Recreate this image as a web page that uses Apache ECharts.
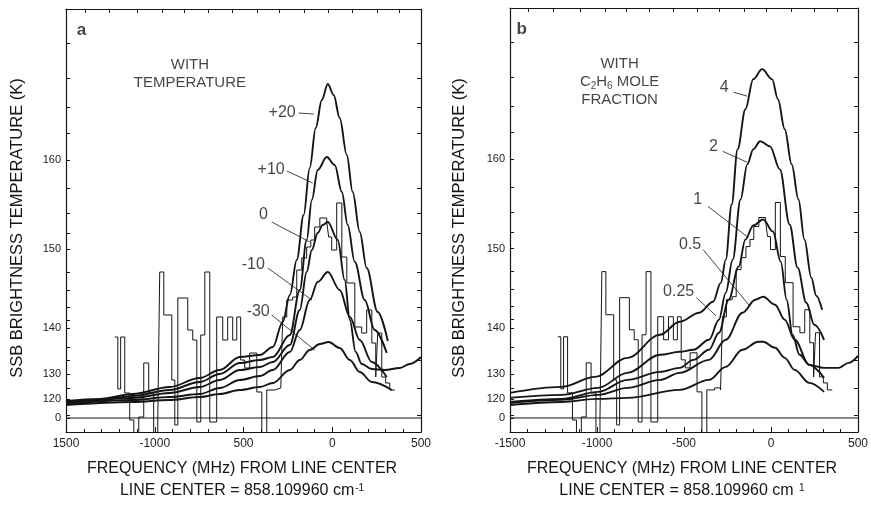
<!DOCTYPE html>
<html><head><meta charset="utf-8">
<script src="https://cdn.jsdelivr.net/npm/echarts@6/dist/echarts.min.js"></script>
<style>html,body{margin:0;padding:0;background:#fff}#c{width:871px;height:508px}</style>
</head><body><div id="c"></div>
<script>
// ---- axis ticks / labels (y values are in linear radiance units; labels are brightness temperature) ----
const xTickValues = [-1500, -1000, -500, 0, 500];
const xTickLabelsA = ['1500', '-1000', '500', '0', '500'];
const xTickLabelsB = ['-1500', '-1000', '-500', '0', '500'];
const topTicks = [-1394, -1254, -1096, -955, -831, -701, -561, -425, -296, -155, -25, 115, 251, 380];
const yTickValues = [0, 7.6, 17.6, 36, 67.6, 103.2];
const yTickLabels = ['0', '120', '130', '140', '150', '160'];
const yMinorTicks = [150, 136, 124.4, 114, 92, 82, 74, 58.4, 51.2, 44.4, 39.2, 28.4, 23.2, 12, 1.2];

// ---- panel a: model curves with temperature offsets ----
const tempNames = ['+20', '+10', '0', '-10', '-30'];
const tempP20 = [[-1500,6.8],[-1310,7.6],[-1124,9.6],[-916,12.4],[-747,16],[-634,19.2],[-521,24.4],[-408,25.2],[-335,28.4],[-279,38.4],[-239,49.2],[-200,63.2],[-161,81.2],[-127,100],[-93,116],[-59,127.2],[-25,133.6],[8,129.2],[42,120],[82,105.2],[115,90.4],[155,74.4],[194,60],[256,42.4],[313,30.8]];
const tempP10 = [[-1500,6.4],[-1310,7.2],[-1124,8.8],[-916,11.2],[-747,14.4],[-634,17.6],[-521,22],[-408,23.2],[-335,24.4],[-239,33.2],[-183,51.2],[-144,71.2],[-115,87.2],[-82,99.2],[-31,104.4],[14,101.2],[54,90.4],[87,77.2],[127,62.4],[183,47.2],[239,35.2],[307,26]];
const temp0 = [[-1500,6],[-1124,8],[-916,10],[-747,12.4],[-634,15.2],[-521,19.2],[-408,20.4],[-335,22.4],[-239,29.2],[-183,43.2],[-144,58.4],[-115,67.2],[-82,74],[-54,77.2],[-25,78.4],[31,71.2],[70,55.2],[99,39.2],[132,26.4],[166,21.6],[223,19.6],[296,19.2],[380,20],[437,21.6],[500,24.4]];
const tempM10 = [[-1500,5.6],[-1124,7.2],[-916,8.4],[-747,9.6],[-634,12],[-521,15.2],[-408,16.8],[-335,19.2],[-239,26.4],[-183,35.2],[-127,47.2],[-82,54.4],[-25,58.4],[42,51.2],[99,40.4],[155,31.2],[223,22.4],[307,16.4]];
const tempM30 = [[-1500,5.2],[-1124,6.4],[-916,7.2],[-747,8.4],[-634,9.6],[-521,11.2],[-408,12.4],[-335,14],[-239,19.2],[-183,23.2],[-127,27.2],[-70,29.6],[-20,30.4],[42,28],[99,23.2],[155,18.4],[223,14.4],[335,11.2]];

// ---- panel b: model curves with C2H6 mole fraction ----
const moleNames = ['4', '2', '1', '0.5', '0.25'];
const mole4 = [[-1500,10],[-1203,12.4],[-1011,16.4],[-825,24],[-638,33.2],[-525,38.4],[-412,42],[-333,46.4],[-288,54],[-260,63.2],[-226,85.2],[-192,107.2],[-147,123.2],[-102,135.2],[-51,139.2],[6,135.2],[40,127.2],[79,115.2],[119,101.2],[158,87.2],[192,71.2],[232,56],[260,48.8],[294,43.2]];
const mole2 = [[-1500,8],[-1203,9.2],[-994,12],[-825,18],[-638,25.2],[-525,26.4],[-446,27.2],[-356,31.2],[-299,39.2],[-260,50],[-220,63.2],[-175,87.2],[-136,101.2],[-102,107.2],[-62,110.4],[-6,108.4],[51,99.2],[107,77.2],[153,60],[203,46],[249,37.2],[305,31.2]];
const mole1 = [[-1500,6.4],[-1203,7.6],[-994,10.4],[-825,15.2],[-638,18.4],[-525,20],[-446,23.2],[-356,27.2],[-299,34],[-243,47.2],[-186,60.4],[-147,71.2],[-102,76.8],[-45,79.2],[11,74.4],[56,62.4],[90,47.2],[124,33.2],[164,25.2],[220,21.2],[305,20],[390,20],[446,22],[500,24.8]];
const mole05 = [[-1500,6],[-1203,7.2],[-994,9.2],[-825,12],[-638,15.2],[-525,18],[-356,23.2],[-260,31.2],[-164,42],[-90,47.2],[-45,48.4],[23,45.2],[79,39.2],[136,31.2],[220,21.2],[305,16]];
const mole025 = [[-1500,5.2],[-1203,6.4],[-994,7.6],[-825,8],[-525,11.2],[-356,15.2],[-260,20.4],[-164,27.2],[-73,30.4],[-45,30.4],[23,28],[79,24],[136,19.2],[220,14],[305,10.4]];

// ---- observed spectrum (step: value holds from this frequency to the next) ----
const obsSpec = [[-1225,32.4],[-1208,11.6],[-1192,32.4],[-1169,10],[-1141,-0.8],[-1118,-6],[-1090,0.4],[-1062,22],[-1034,10],[-1006,-6],[-983,-0.8],[-972,58.4],[-949,41.2],[-904,15.2],[-887,-2.8],[-870,48],[-814,35.2],[-786,31.2],[-763,-1.6],[-741,33.2],[-718,58.4],[-690,-1.6],[-651,40.4],[-617,31.2],[-589,40.4],[-561,31.2],[-538,40.4],[-516,23.2],[-493,20],[-465,26],[-425,10.4],[-397,-6],[-369,11.2],[-324,12],[-290,11.2],[-279,40.4],[-256,47.2],[-223,48.4],[-200,59.2],[-172,64],[-144,68.4],[-121,71.2],[-99,76.4],[-70,80],[-31,78.4],[-20,72.4],[-3,67.2],[25,86],[54,64.4],[82,54],[127,36.4],[166,34],[194,43.2],[223,30],[245,16.4],[256,34],[279,16.4],[301,14],[324,11.2],[352,11.2]];
const baseline = [[-1500,0],[500,0]];

// ---- annotations (data coordinates) ----
const annotA = [
  {t:'+20', x:-206, y:122}, {t:'+10', x:-268, y:99.2}, {t:'0', x:-363, y:81.2},
  {t:'-10', x:-380, y:61.2}, {t:'-30', x:-352, y:42.4}];
const leadersA = [[[-189,122],[-104,121.6]],[[-256,98.8],[-110,94]],[[-341,78.4],[-127,70.4]],[[-363,60],[-115,47.2]],[[-341,41.2],[-99,27.2]]];
const annotB = [
  {t:'4', x:-243, y:132}, {t:'2', x:-305, y:108.4}, {t:'1', x:-396, y:87.2},
  {t:'0.5', x:-401, y:69.2}, {t:'0.25', x:-441, y:50.4}];
const leadersB = [[[-215,130],[-136,128.4]],[[-277,106.4],[-136,102]],[[-362,84.4],[-130,72]],[[-390,67.2],[-119,44.4]],[[-429,48],[-316,40.8]]];

const FONT = '"Liberation Sans", Arial, Helvetica, sans-serif';
const INK = '#151515';

function xAxesFor(gi, labels) {
  return [
    {type:'value', gridIndex:gi, position:'bottom', min:-1500, max:500, interval:500,
     axisLine:{show:true, onZero:false, lineStyle:{color:INK, width:1.2}},
     axisTick:{show:true, inside:true, length:5, lineStyle:{color:INK}},
     minorTick:{show:true, splitNumber:5, length:3, lineStyle:{color:INK}},
     splitLine:{show:false}, minorSplitLine:{show:false},
     axisLabel:{color:'#222', fontSize:12, fontFamily:FONT, margin:6,
       formatter: v => { const i = xTickValues.indexOf(v); return i < 0 ? '' : labels[i]; }}},
    {type:'value', gridIndex:gi, position:'top', min:-1500, max:500,
     axisLine:{show:true, onZero:false, lineStyle:{color:INK, width:1.2}},
     axisTick:{show:true, inside:true, length:4, customValues:topTicks, lineStyle:{color:INK}},
     axisLabel:{show:false}, splitLine:{show:false}}
  ];
}
function yAxesFor(gi) {
  return [
    {type:'value', gridIndex:gi, position:'left', min:-5.6, max:163.6,
     axisLine:{show:true, onZero:false, lineStyle:{color:INK, width:1.2}},
     axisTick:{show:true, inside:true, length:4, customValues:yTickValues.concat(yMinorTicks), lineStyle:{color:INK}},
     axisLabel:{customValues:yTickValues, color:'#222', fontSize:11, fontFamily:FONT, margin:5,
       formatter: v => { const i = yTickValues.findIndex(t => Math.abs(t - v) < 1e-6); return i < 0 ? '' : yTickLabels[i]; }},
     splitLine:{show:false}},
    {type:'value', gridIndex:gi, position:'right', min:-5.6, max:163.6,
     axisLine:{show:true, onZero:false, lineStyle:{color:INK, width:1.2}},
     axisTick:{show:true, inside:true, length:4, customValues:yMinorTicks, lineStyle:{color:INK}},
     axisLabel:{show:false}, splitLine:{show:false}}
  ];
}

function curve(name, data, ai) {
  return {name, type:'line', xAxisIndex:ai, yAxisIndex:ai, data, smooth:0.35, smoothMonotone:'x',
    symbol:'none', clip:true, lineStyle:{color:INK, width:1.9}, z:4, silent:true};
}
function panelSeries(ai, names, curves, annots, leaders, letter, letterX, heading, headingX, headingY) {
  const s = curves.map((d, i) => curve(names[i], d, ai));
  s.push({name:'observed', type:'line', xAxisIndex:ai, yAxisIndex:ai, data:obsSpec, step:'end', symbol:'none', clip:true,
    lineStyle:{color:INK, width:1}, z:3, silent:true});
  s.push({name:'zero', type:'line', xAxisIndex:ai, yAxisIndex:ai, data:baseline, symbol:'none',
    lineStyle:{color:INK, width:1}, z:2, silent:true});
  s.push({type:'lines', coordinateSystem:'cartesian2d', xAxisIndex:ai, yAxisIndex:ai, silent:true, z:5,
    lineStyle:{color:INK, width:0.8, opacity:1}, data:leaders.map(c => ({coords:c}))});
  const labelData = annots.map(a => ({value:[a.x, a.y], label:{formatter:a.t, align:'right'}}));
  labelData.push({value:[letterX, 155.2], label:{formatter:letter, align:'left', fontWeight:'bold', fontSize:17}});
  labelData.push({value:[headingX, headingY], label:{formatter:heading, align:'center', fontSize:15, lineHeight:18}});
  s.push({type:'scatter', xAxisIndex:ai, yAxisIndex:ai, symbolSize:0, silent:true, z:6, data:labelData,
    label:{show:true, position:'inside', verticalAlign:'middle', color:INK, fontSize:16, fontFamily:FONT,
      rich:{sub:{fontSize:10, fontFamily:FONT, color:INK, verticalAlign:'bottom', lineHeight:18}}}});
  return s;
}

const titleStyle = {font:'16px ' + FONT, fill:INK};
function axisTitles(cx, yx) {
  return [
    {type:'text', x:cx, y:469, style:Object.assign({text:'FREQUENCY (MHz) FROM LINE CENTER', align:'center', verticalAlign:'middle'}, titleStyle)},
    {type:'text', x:yx, y:228, rotation:Math.PI/2, style:Object.assign({text:'SSB BRIGHTNESS TEMPERATURE (K)', align:'center', verticalAlign:'middle'}, {font:'16.5px ' + FONT, fill:INK})}
  ];
}

const option = {
  animation:false,
  backgroundColor:'#ffffff',
  grid:[{left:66, top:9, width:355, height:423}, {left:510, top:8, width:354, height:424}],
  xAxis: xAxesFor(0, xTickLabelsA).concat(xAxesFor(1, xTickLabelsB)),
  yAxis: yAxesFor(0).concat(yAxesFor(1)),
  series: panelSeries(0, tempNames, [tempP20, tempP10, temp0, tempM10, tempM30], annotA, leadersA, 'a', -1439, 'WITH\nTEMPERATURE', -802, 137.6)
    .concat(panelSeries(2, moleNames, [mole4, mole2, mole1, mole05, mole025], annotB, leadersB, 'b', -1463, 'WITH\nC{sub|2}H{sub|6} MOLE\nFRACTION', -870, 134)),
  graphic: axisTitles(242, 17).concat(axisTitles(682, 459)).concat([
    {type:'text', x:242, y:491, style:{text:'LINE CENTER = 858.109960 cm{sup|-1}', align:'center', verticalAlign:'middle', font:'16px ' + FONT, fill:INK,
      rich:{sup:{fontSize:10, fontFamily:FONT, fill:INK, verticalAlign:'top', padding:[0,0,6,1]}}}},
    {type:'text', x:682, y:491, style:{text:'LINE CENTER = 858.109960 cm {sup|1}', align:'center', verticalAlign:'middle', font:'16px ' + FONT, fill:INK,
      rich:{sup:{fontSize:10, fontFamily:FONT, fill:INK, verticalAlign:'top', padding:[0,0,6,1]}}}}
  ])
};

const chart = echarts.init(document.getElementById('c'), null, {renderer:'canvas'});
chart.setOption(option);
</script></body></html>
